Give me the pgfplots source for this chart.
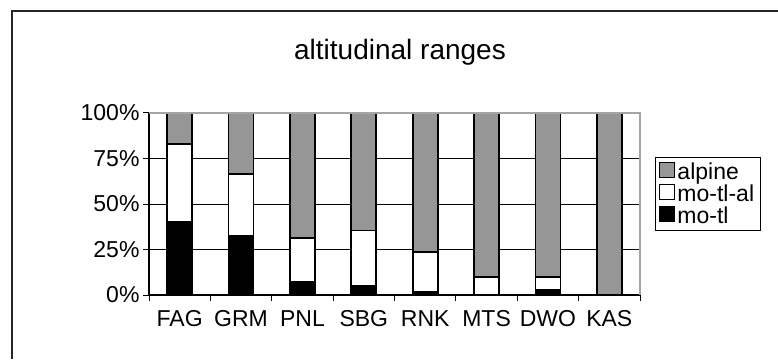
\documentclass[border=0pt]{standalone}
\usepackage{pgfplots}
\pgfplotsset{compat=1.18}
\usepackage{fontspec}
\setmainfont{Liberation Sans}
\definecolor{alp}{RGB}{150,150,150}
\definecolor{brd}{RGB}{165,165,165}
\begin{document}
\begin{tikzpicture}
\useasboundingbox (0pt,0pt) rectangle (778pt,359pt);
\draw[line width=1.5pt, black!85] (12pt,0pt) -- (12pt,348pt) -- (778pt,348pt);
\node[font=\fontsize{28}{32}\selectfont] at (400pt,307pt) {altitudinal ranges};
\begin{axis}[
  at={(149pt,64pt)}, anchor=south west,
  scale only axis, width=491pt, height=182pt,
  ybar stacked, bar width=25pt,
  xmin=-0.5, xmax=7.5, ymin=0, ymax=100,
  xtick={0,...,7},
  xticklabels={FAG,GRM,PNL,SBG,RNK,MTS,DWO,KAS},
  ytick={0,25,50,75,100},
  yticklabels={0\%,25\%,50\%,75\%,100\%},
  xmajorgrids=false,
  ymajorgrids=true, grid style={black, line width=0.9pt},
  axis x line*=bottom, axis y line*=left,
  axis line style={black, line width=1.2pt, -},
  tick align=outside,
  major tick length=6pt,
  xtick style={draw=none},
  ytick style={draw=black, line width=1pt},
  tick label style={font=\fontsize{23}{26}\selectfont},
  xticklabel style={yshift=-6pt},
  every axis plot/.append style={draw=black, line width=1.8pt,
    legend image code/.code={\draw[##1, line width=1pt] (0pt,-6pt) rectangle (15pt,9pt);}},
  legend style={at={(1.0305,0.758)}, anchor=north west, draw=black, line width=1pt,
    font=\fontsize{23}{28}\selectfont, inner xsep=4pt, inner ysep=3pt,
    nodes={inner sep=2pt},
    cells={anchor=west}},
  reverse legend,
  after end axis/.code={
    \draw[brd, line width=1.5pt] (rel axis cs:0,1) -- (rel axis cs:1,1) -- (rel axis cs:1,0);
    \foreach \i in {-0.5,0.5,...,7.5} {\draw[black, line width=1pt] (axis cs:\i,0) -- ++(0pt,-6pt);}
  },
]
\addplot[fill=black] coordinates {(0,40.4) (1,32.5) (2,7) (3,5) (4,1.7) (5,0) (6,2.8) (7,0)};
\addplot[fill=white] coordinates {(0,42.6) (1,34.1) (2,24.4) (3,30.4) (4,21.8) (5,9.7) (6,6.9) (7,0)};
\addplot[fill=alp] coordinates {(0,17) (1,33.4) (2,68.6) (3,64.6) (4,76.5) (5,90.3) (6,90.3) (7,100)};
\legend{mo-tl,mo-tl-al,alpine}
\end{axis}
\end{tikzpicture}
\end{document}
